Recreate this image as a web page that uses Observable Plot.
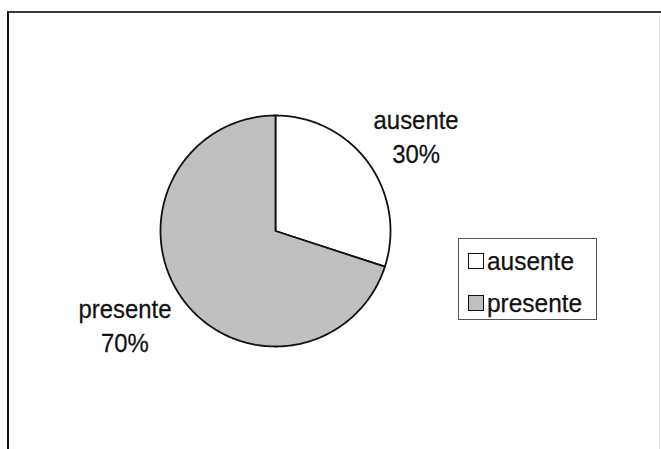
<!DOCTYPE html>
<html>
<head>
<meta charset="utf-8">
<script src="https://cdn.jsdelivr.net/npm/d3@7"></script>
<script src="https://cdn.jsdelivr.net/npm/@observablehq/plot@0.6"></script>
<style>
  html, body { margin: 0; padding: 0; background: #fff; }
  #wrap { position: relative; width: 661px; height: 449px; overflow: hidden; font-family: "Liberation Sans", Arial, sans-serif; }
  #frameTop { position: absolute; left: 8px; top: 11px; width: 653px; height: 0; border-top: 2px solid #3a3a3a; }
  #frameLeft { position: absolute; left: 7px; top: 11px; width: 0; height: 440px; border-left: 2px solid #111; }
  #frameRight { position: absolute; left: 659px; top: 13px; width: 0; height: 436px; border-left: 1px solid #e6e6e6; }
  #legend { position: absolute; left: 458px; top: 238px; width: 137px; height: 80px; border: 1px solid #555; background: #fff; }
  .row { position: absolute; left: 9px; height: 26px; display: flex; align-items: center; font-size: 26px; line-height: 26px; color: #111; white-space: nowrap; }
  .row span { display: inline-block; transform: scaleX(0.94); transform-origin: left center; -webkit-text-stroke: 0.25px #111; }
  .sw { width: 14px; height: 14px; border: 1.6px solid #111; margin-right: 3px; flex: none; }
</style>
</head>
<body>
<div id="wrap">
  <div id="chart"></div>
  <div id="frameTop"></div>
  <div id="frameLeft"></div>
  <div id="frameRight"></div>
  <div id="legend"></div>
</div>
<script>
// ---- data ----
const categories = ["ausente", "presente"];
const values = [30, 70];
const colors = ["#ffffff", "#c0c0c0"];

// ---- layout constants ----
const W = 661, H = 449;
const mL = 160, mR = 271, mT = 115, mB = 103;
const fontSize = 26, squeeze = 0.92;
const pxX = (W - mL - mR) / 2, pxY = (H - mT - mB) / 2; // pixels per data unit

// ---- build slices from data ----
const pie = d3.pie().sort(null).value(d => d.value);
const arcs = pie(categories.map((c, i) => ({category: c, value: values[i]})));
const total = d3.sum(values);

const pts = [];
arcs.forEach(a => {
  const n = Math.max(2, Math.ceil((a.endAngle - a.startAngle) / 0.01));
  pts.push({category: a.data.category, x: 0, y: 0});
  for (let k = 0; k <= n; k++) {
    const t = a.startAngle + (a.endAngle - a.startAngle) * k / n;
    pts.push({category: a.data.category, x: Math.sin(t), y: Math.cos(t)});
  }
});

// text width measurement
const ctx = document.createElement("canvas").getContext("2d");
ctx.font = `${fontSize}px "Liberation Sans", Arial, sans-serif`;
const measure = s => ctx.measureText(s).width * squeeze;

const labels = arcs.map(a => {
  const m = (a.startAngle + a.endAngle) / 2;
  const sx = Math.sin(m), sy = Math.cos(m);
  const pct = Math.round(a.data.value / total * 100) + "%";
  const w = Math.max(measure(a.data.category), measure(pct));
  const right = sx >= 0, upper = sy >= 0;
  const gap = right ? 5 : 11;
  return {
    category: a.data.category,
    x: sx + (right ? 1 : -1) * (w / 2 + gap) / pxX,
    y: sy,
    upper,
    text: a.data.category + "\n" + pct
  };
});

const plot = Plot.plot({
  width: W,
  height: H,
  marginLeft: mL,
  marginRight: mR,
  marginTop: mT,
  marginBottom: mB,
  x: {domain: [-1, 1], axis: null},
  y: {domain: [-1, 1], axis: null},
  color: {domain: categories, range: colors},
  style: {fontFamily: "'Liberation Sans', Arial, sans-serif", background: "white", overflow: "visible"},
  marks: [
    Plot.line(pts, {x: "x", y: "y", z: "category", fill: "category", stroke: "#111", strokeWidth: 1.8, curve: "linear-closed", strokeLinejoin: "round"}),
    ...labels.map(l => Plot.text([l], {
      x: "x", y: "y", text: "text", fontSize, lineHeight: 34 / fontSize,
      fill: "#111", stroke: "#111", strokeWidth: 0.25,
      textAnchor: "middle", lineAnchor: l.upper ? "bottom" : "top",
      dy: l.upper ? 0 : -5
    }))
  ]
});

// horizontally condense label text around its anchor
plot.querySelectorAll("text").forEach(t => {
  const tr = t.getAttribute("transform");
  if (tr) {
    t.setAttribute("transform", tr + ` scale(${squeeze},1)`);
  } else {
    const x = +t.getAttribute("x") || 0, y = +t.getAttribute("y") || 0;
    t.setAttribute("transform", `translate(${x},${y}) scale(${squeeze},1) translate(${-x},${-y})`);
  }
});
document.getElementById("chart").appendChild(plot);

// ---- legend ----
const leg = document.getElementById("legend");
categories.forEach((c, i) => {
  const row = document.createElement("div");
  row.className = "row";
  row.style.top = (9 + 42 * i) + "px";
  const sw = document.createElement("div");
  sw.className = "sw";
  sw.style.background = colors[i];
  const tx = document.createElement("span");
  tx.textContent = c;
  row.appendChild(sw);
  row.appendChild(tx);
  leg.appendChild(row);
});
</script>
</body>
</html>
